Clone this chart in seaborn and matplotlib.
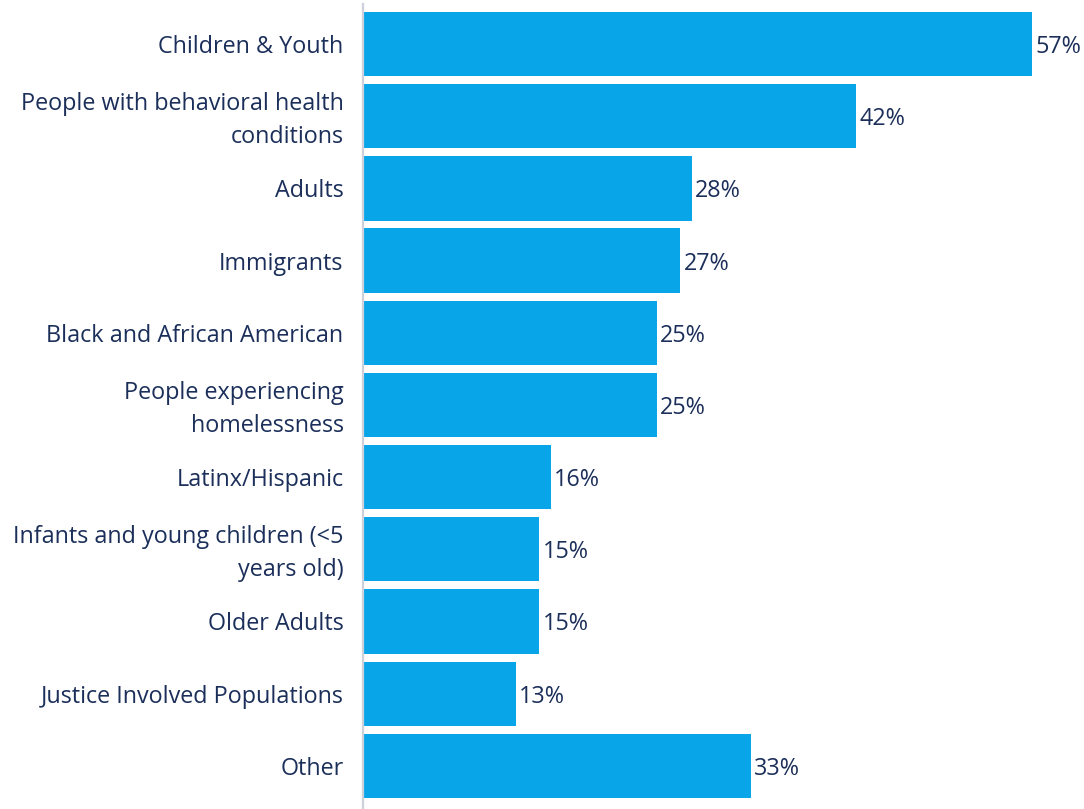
import matplotlib
matplotlib.use("Agg")
import matplotlib.pyplot as plt
import matplotlib.transforms as mtransforms
import seaborn as sns
import pandas as pd

# Populations served, share of respondents (%)
categories = [
    "Children & Youth",
    "People with behavioral health\nconditions",
    "Adults",
    "Immigrants",
    "Black and African American",
    "People experiencing\nhomelessness",
    "Latinx/Hispanic",
    "Infants and young children (<5\nyears old)",
    "Older Adults",
    "Justice Involved Populations",
    "Other",
]
percentages = [57, 42, 28, 27, 25, 25, 16, 15, 15, 13, 33]

BAR_COLOR = "#08A6E8"
TEXT_COLOR = "#1B2F5A"
AXIS_COLOR = "#CDD1DB"

sns.set_theme(style="white")
plt.rcParams["font.family"] = ["Open Sans", "DejaVu Sans"]

df = pd.DataFrame({"category": categories, "pct": percentages})

fig = plt.figure(figsize=(10.84, 8.09), dpi=100)
ax = fig.add_axes([0.3349, 0.0087, 0.6651, 0.9815])

sns.barplot(data=df, x="pct", y="category", color=BAR_COLOR,
            saturation=1, width=0.89, linewidth=0, ax=ax, orient="h")

ax.set_xlim(0, 61.4)
ax.set_ylim(len(categories) - 0.5, -0.5)
ax.set_xlabel("")
ax.set_ylabel("")
ax.set_xticks([])

ax.tick_params(axis="y", length=0, pad=14, labelsize=16.8, labelcolor=TEXT_COLOR)
# nudge two-line category labels up a little so both lines sit centred on the bar
lift = mtransforms.ScaledTranslation(0, 3 / 100, fig.dpi_scale_trans)
for label in ax.get_yticklabels():
    label.set_multialignment("right")
    label.set_linespacing(1.5)
    label.set_verticalalignment("center_baseline")
for tick in ax.yaxis.get_major_ticks():
    if "\n" in tick.label1.get_text():
        tick.label1.set_transform(tick.label1.get_transform() + lift)

for side in ["top", "right", "bottom"]:
    ax.spines[side].set_visible(False)
ax.spines["left"].set_color(AXIS_COLOR)
ax.spines["left"].set_linewidth(1.6)
ax.spines["left"].set_bounds(len(categories) - 0.4, -0.55)

for container in ax.containers:
    texts = ax.bar_label(container, labels=[f"{v}%" for v in percentages],
                         padding=2.5, fontsize=16.8, color=TEXT_COLOR)
    for t in texts:
        t.set_verticalalignment("center_baseline")

fig.savefig("out.png", dpi=100)
